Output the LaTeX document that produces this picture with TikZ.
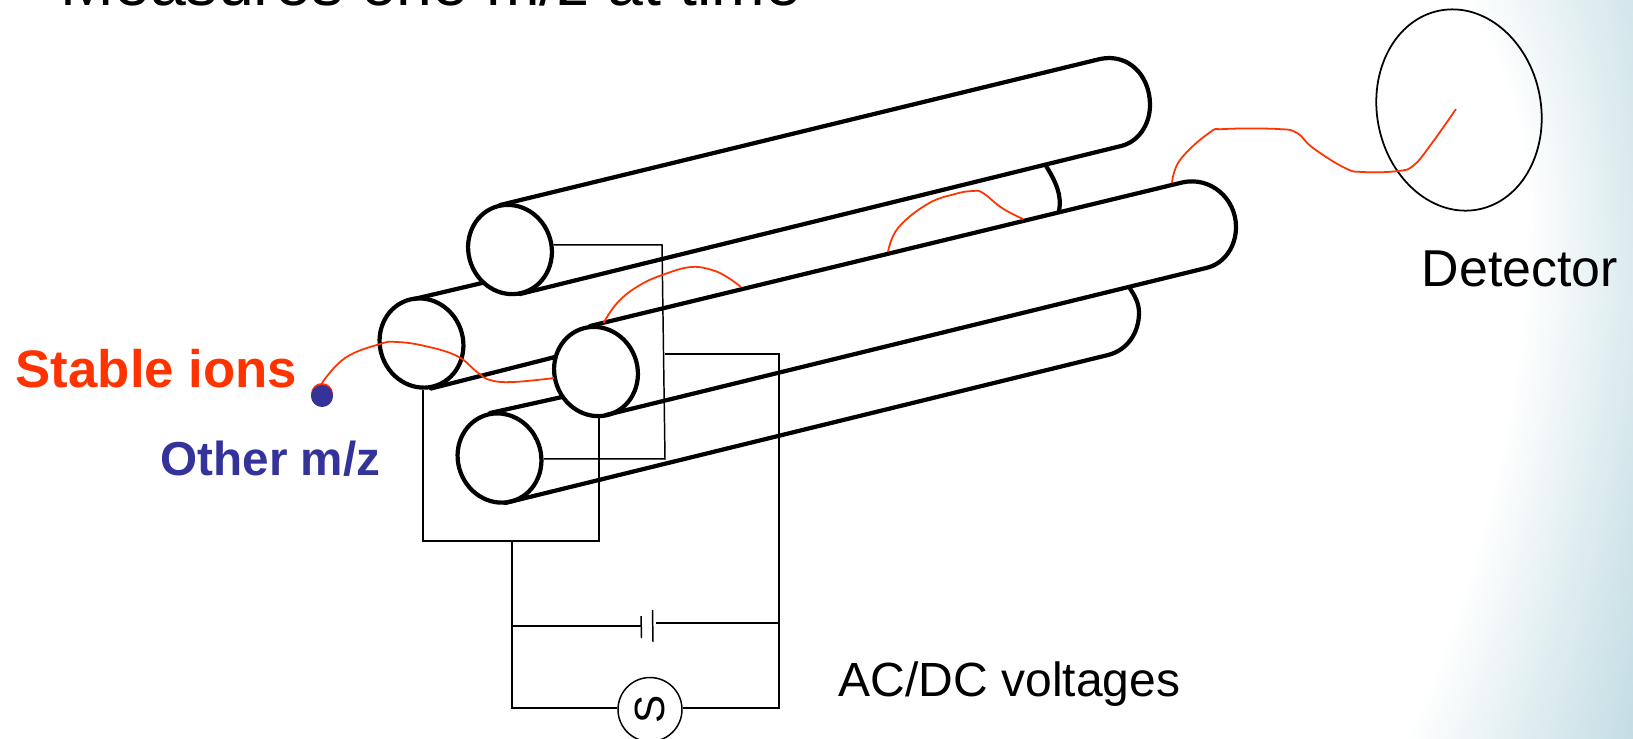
\documentclass[tikz,border=0pt]{standalone}
\usepackage{fontspec}
\setmainfont{Liberation Sans}
\usetikzlibrary{shapes.geometric}
\definecolor{ionred}{HTML}{FF3300}
\definecolor{ionblue}{HTML}{333399}
\definecolor{cornerteal}{HTML}{C3DDE3}
\tikzset{
  rodend/.style={draw=black,line width=1.2pt,ellipse,inner sep=0pt,minimum width=23.6pt,minimum height=25.6pt,rotate=20},
  rodline/.style={draw=black,line width=1.2pt,line cap=round},
  wire/.style={draw=black,line width=0.42pt},
  flight/.style={draw=ionred,line width=0.5pt},
  lbl/.style={inner sep=0pt,anchor=base west,text=black}
}
\begin{document}
\begin{tikzpicture}[x=0.01cm,y=-0.01cm]
\useasboundingbox (0,0) rectangle (1633,738);
\fill[white] (0,0) rectangle (1633,738);
% corner tint, built from horizontal strips
\foreach \yy in {0,6,...,732}{
  \pgfmathsetmacro{\bx}{\yy<200 ? 1525-61*((200-\yy)/200)^2 : 1525-122*((\yy-200)/538)^2}
  \pgfmathsetmacro{\pc}{\yy<300 ? 73-15*(\yy/300) : 58+42*((\yy-300)/438)}
  \shade[left color=white,right color=cornerteal!\pc!white] (\bx,\yy) rectangle (1633,\yy+6.6);
}
% clipped title
\node[lbl,font=\fontsize{18.3pt}{18.3pt}\selectfont] (title) at (60,5) {Measures one m/z at time};
% rod ends
\node[rodend] (endA) at (510,249.5) {};
\node[rodend] (endB) at (421.5,343) {};
\node[rodend] (endC) at (596,371.5) {};
\node[rodend] (endD) at (499.5,458) {};
% rod A
\draw[rodline] (500,205) -- (1100,59) .. controls (1128,53) and (1150,75) .. (1150,105) .. controls (1150,125) and (1138,142) .. (1121,146) -- (520,294);
% rod B
\draw[rodline] (414,299) -- (482,283);
\draw[rodline] (431,388.5) -- (555,357);
\draw[rodline] (1045.5,165) .. controls (1056,182) and (1062,195) .. (1059,211);
% rod C
\draw[rodline] (590,326) -- (1182,182.5) .. controls (1210,176) and (1236,198) .. (1236,227) .. controls (1236,247) and (1224,264) .. (1206,268) -- (606,415);
% rod D
\draw[rodline] (490,413) -- (562,397);
\draw[rodline] (505,503) -- (1108,355) .. controls (1128,350) and (1139,332) .. (1139,313) .. controls (1139,303) and (1135,296) .. (1129,287);
% wires
\coordinate (aTurn) at (662,245);
\coordinate (dTurn) at (665,459);
\draw[wire] (endA.-14) -- (endA.-14 -| aTurn) -- (dTurn |- endD.-21) -- (endD.-21);
\coordinate (bcLeft) at (423,541);
\coordinate (bcRight) at (599,541);
\draw[wire] (bcLeft |- endB.-110) -- (bcLeft) -- (bcRight) -- (bcRight |- endC.-110);
\coordinate (stemTop) at (512,541);
\coordinate (stemBot) at (512,708);
\node[draw=black,line width=0.42pt,ellipse,inner sep=0pt,minimum width=18.2pt,minimum height=18.2pt,font=\fontsize{12pt}{12pt}\selectfont] (src) at (650,709.5) {\rotatebox{90}{S}};
\coordinate (rightBot) at (779,708);
\coordinate (rightTop) at (779,354);
\coordinate (rightJoin) at (665,354);
\draw[wire] (stemTop) -- (stemBot) -- (src.west |- stemBot);
\draw[wire] (src.east |- rightBot) -- (rightBot) -- (rightTop) -- (rightJoin);
% battery
\coordinate (batL) at (641,626);
\coordinate (batR) at (656,623);
\coordinate (batLeft) at (512,626);
\coordinate (batRight) at (779,623);
\draw[wire] (batLeft) -- (batL);
\draw[wire] (641,616) -- (641.5,638);
\draw[wire] (652.5,610) -- (653,642);
\draw[wire] (batR) -- (batRight);
% detector
\node[draw=black,line width=0.5pt,ellipse,inner sep=0pt,minimum width=46.6pt,minimum height=57.6pt,rotate=11] (det) at (1459,110) {};
% ion
\fill[ionred] (322,394) circle (11);
\node[circle,fill=ionblue,inner sep=0pt,minimum size=6.26pt] (ion) at (322,396) {};
% flight path
\draw[flight] plot[smooth,tension=0.7] coordinates {(322,383) (345,358) (380,344) (397,342) (425,346) (457,356) (477,372) (490,380) (513,382) (554,378)};
\draw[flight] plot[smooth,tension=0.7] coordinates {(603.5,323) (618,302) (640,285) (665,274) (691,267) (712,270) (727,277) (741,287)};
\draw[flight] plot[smooth,tension=0.7] coordinates {(888,252) (898,228) (927.5,204) (955,194) (973,191) (983,193) (1002,208) (1023,219)};
\draw[flight] plot[smooth,tension=0.7] coordinates {(1172,183) (1180,160) (1209,133) (1225,129) (1278,129) (1297,133) (1313,148) (1345,168) (1363,172) (1398,171) (1414,165) (1432,143) (1456,109)};
% labels
\node[lbl,text=ionred,font=\bfseries\fontsize{15pt}{15pt}\selectfont] (stable) at (15,387) {Stable ions};
\node[lbl,text=ionblue,font=\bfseries\fontsize{13.55pt}{13.55pt}\selectfont] (other) at (160,475) {Other m/z};
\node[lbl,font=\fontsize{14.75pt}{14.75pt}\selectfont] (dlabel) at (1421,286) {Detector};
\node[lbl,font=\fontsize{13.65pt}{13.65pt}\selectfont] (aclabel) at (838,696) {AC/DC voltages};
\end{tikzpicture}
\end{document}
